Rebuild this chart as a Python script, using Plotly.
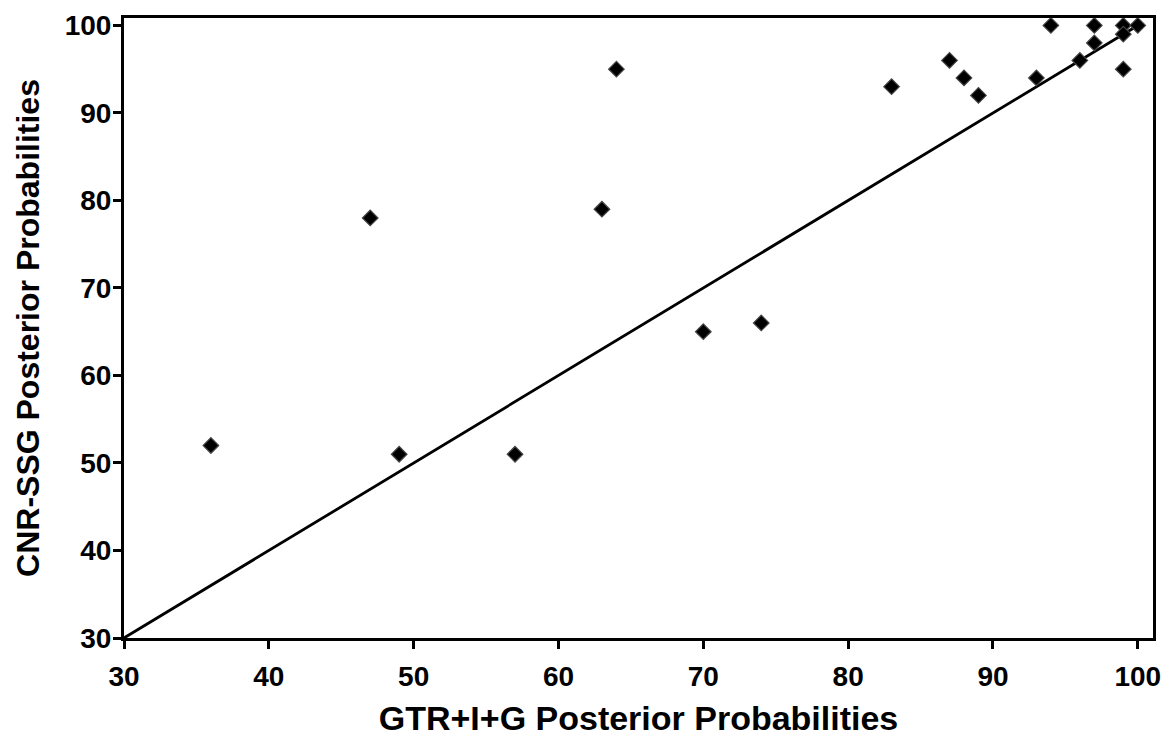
import plotly.graph_objects as go

# GTR+I+G posterior probabilities (x) vs CNR-SSG posterior probabilities (y)
gtr_pp = [36, 47, 49, 57, 63, 64, 70, 74, 83, 87, 88, 89, 93, 94, 96, 97, 97, 99, 99, 99, 100]
cnr_pp = [52, 78, 51, 51, 79, 95, 65, 66, 93, 96, 94, 92, 94, 100, 96, 100, 98, 100, 99, 95, 100]

# reference line y = x
ref_x = [30, 100]
ref_y = [30, 100]

tick_vals = [30, 40, 50, 60, 70, 80, 90, 100]
tick_text = ["30", "40", "50", "60", "70", "80", "90", "100"]

FONT = "Liberation Sans, Arial, sans-serif"

fig = go.Figure()
fig.add_trace(go.Scatter(
    x=ref_x, y=ref_y, mode="lines",
    line=dict(color="black", width=2.8),
    showlegend=False, hoverinfo="skip",
))
fig.add_trace(go.Scatter(
    x=gtr_pp, y=cnr_pp, mode="markers",
    marker=dict(symbol="diamond", size=12, color="black",
                line=dict(color="#454545", width=1.2)),
    showlegend=False,
))

axis_common = dict(
    showgrid=False, zeroline=False,
    showline=True, linecolor="black", linewidth=3, mirror=True,
    ticks="outside", ticklen=8, tickwidth=3, tickcolor="black",
    tickvals=tick_vals, ticktext=tick_text,
    ticklabeloverflow="allow",
    tickfont=dict(family=FONT, size=28, color="black", weight="bold"),
)

# page body has an 8px default margin, so the figure is shrunk by 8px
fig.update_layout(
    width=1161, height=730,
    margin=dict(l=116, r=16, t=2, b=100),
    paper_bgcolor="white", plot_bgcolor="white",
    font=dict(family=FONT, color="black"),
    xaxis=dict(
        range=[30, 101.05],
        title=dict(text="<b>GTR+I+G Posterior Probabilities</b>",
                   font=dict(family=FONT, size=34, color="black"), standoff=16),
        ticklabelstandoff=3,
        **axis_common,
    ),
    yaxis=dict(
        range=[30, 100.85],
        title=dict(text="<b>CNR-SSG Posterior Probabilities</b>",
                   font=dict(family=FONT, size=32, color="black"), standoff=16),
        ticklabelstandoff=-4,
        **axis_common,
    ),
)

fig.write_html("out.html")
